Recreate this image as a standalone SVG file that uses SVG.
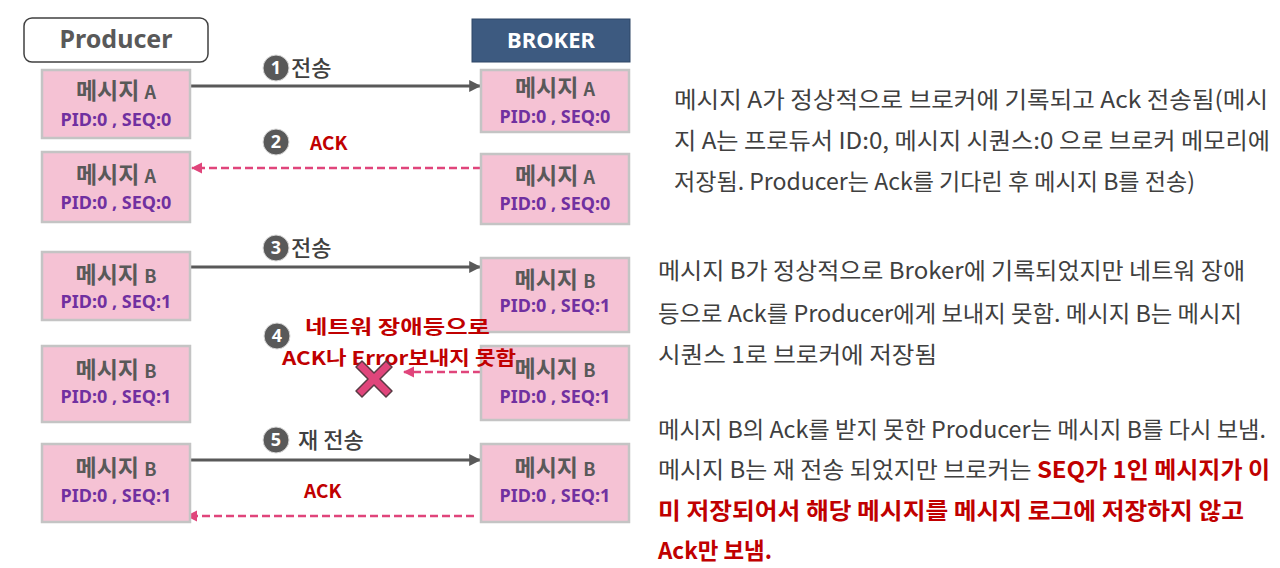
<svg xmlns="http://www.w3.org/2000/svg" width="1280" height="568" viewBox="0 0 1280 568">
<style>
  .box { fill: #f5c2d4; stroke: #c4c4c4; stroke-width: 2.5; }
  .msg { font-family: "Noto Sans CJK KR", "Noto Sans", sans-serif; font-weight: 700; font-size: 23px; fill: #595959; text-anchor: middle; }
  .msg tspan.l { font-size: 18px; }
  .pid { font-family: "Noto Sans", "Liberation Sans", sans-serif; font-weight: 700; font-size: 18px; fill: #7030a0; text-anchor: middle; }
  .num { fill: #595959; stroke: #d9d9d9; stroke-width: 1; }
  .numt { font-family: "Noto Sans", "Liberation Sans", sans-serif; font-weight: 700; font-size: 18px; fill: #ffffff; text-anchor: middle; }
  .lbl { font-family: "Noto Sans CJK KR", sans-serif; font-weight: 500; font-size: 22px; fill: #404040; }
  .red { font-family: "Noto Sans CJK KR", sans-serif; font-weight: 700; font-size: 19px; fill: #c00000; }
  .desc { font-family: "Noto Sans CJK KR", sans-serif; font-size: 23px; fill: #404040; }
  .descr { font-weight: 700; fill: #c00000; }
  .solid { stroke: #595959; stroke-width: 3; fill: none; }
  .dash { stroke: #e0457b; stroke-width: 2.5; stroke-dasharray: 8 4; fill: none; }
</style>
<defs>
  <marker id="ah" viewBox="0 0 10 10" refX="9" refY="5" markerWidth="4" markerHeight="4" markerUnits="strokeWidth" orient="auto">
    <path d="M0,0 L10,5 L0,10 z" fill="#595959"/>
  </marker>
  <marker id="ahp" viewBox="0 0 10 10" refX="9" refY="5" markerWidth="4.5" markerHeight="4.5" markerUnits="strokeWidth" orient="auto">
    <path d="M0,0 L10,5 L0,10 z" fill="#e0457b"/>
  </marker>
</defs>
<rect width="1280" height="568" fill="#ffffff"/>

<g id="producer">
  <rect x="24" y="18" width="184" height="44" rx="8" fill="#ffffff" stroke="#404040" stroke-width="1.5"/>
  <text x="116" y="48" font-family="Noto Sans, Liberation Sans, sans-serif" font-weight="700" font-size="25" fill="#595959" text-anchor="middle">Producer</text>
</g>
<g id="broker">
  <rect x="472" y="19" width="158" height="43" fill="#3d5a80" stroke="#2f4766" stroke-width="1"/>
  <text x="551" y="48" font-family="Noto Sans, Liberation Sans, sans-serif" font-weight="700" font-size="22" fill="#ffffff" text-anchor="middle">BROKER</text>
</g>

<g id="connectors">
  <line class="solid" x1="191" y1="86" x2="480" y2="86" marker-end="url(#ah)"/>
  <line class="dash" x1="481" y1="168" x2="192" y2="168" marker-end="url(#ahp)"/>
  <line class="solid" x1="191" y1="267" x2="480" y2="267" marker-end="url(#ah)"/>
  <line class="dash" x1="481" y1="372" x2="404" y2="372" marker-end="url(#ahp)"/>
  <line class="solid" x1="191" y1="460" x2="480" y2="460" marker-end="url(#ah)"/>
  <line class="dash" x1="474" y1="516" x2="187" y2="516" marker-end="url(#ahp)"/>
</g>

<g id="pA1"><rect class="box" x="42" y="70" width="148" height="68"/>
  <text class="msg" x="116" y="99">메시지 <tspan class="l">A</tspan></text>
  <text class="pid" x="116" y="126">PID:0 , SEQ:0</text></g>
<g id="bA1"><rect class="box" x="481" y="70" width="148" height="62"/>
  <text class="msg" x="555" y="96">메시지 <tspan class="l">A</tspan></text>
  <text class="pid" x="555" y="123">PID:0 , SEQ:0</text></g>
<g id="pA2"><rect class="box" x="42" y="152" width="148" height="70"/>
  <text class="msg" x="116" y="183">메시지 <tspan class="l">A</tspan></text>
  <text class="pid" x="116" y="209">PID:0 , SEQ:0</text></g>
<g id="bA2"><rect class="box" x="481" y="154" width="148" height="70"/>
  <text class="msg" x="555" y="184">메시지 <tspan class="l">A</tspan></text>
  <text class="pid" x="555" y="210">PID:0 , SEQ:0</text></g>
<g id="pB3"><rect class="box" x="42" y="252" width="148" height="68"/>
  <text class="msg" x="116" y="283">메시지 <tspan class="l">B</tspan></text>
  <text class="pid" x="116" y="308">PID:0 , SEQ:1</text></g>
<g id="bB3"><rect class="box" x="481" y="258" width="148" height="74"/>
  <text class="msg" x="555" y="288">메시지 <tspan class="l">B</tspan></text>
  <text class="pid" x="555" y="312">PID:0 , SEQ:1</text></g>
<g id="pB4"><rect class="box" x="42" y="346" width="148" height="76"/>
  <text class="msg" x="116" y="378">메시지 <tspan class="l">B</tspan></text>
  <text class="pid" x="116" y="403">PID:0 , SEQ:1</text></g>
<g id="bB4"><rect class="box" x="481" y="346" width="148" height="74"/>
  <text class="msg" x="555" y="377">메시지 <tspan class="l">B</tspan></text>
  <text class="pid" x="555" y="403">PID:0 , SEQ:1</text></g>
<g id="pB5"><rect class="box" x="42" y="444" width="148" height="78"/>
  <text class="msg" x="116" y="476">메시지 <tspan class="l">B</tspan></text>
  <text class="pid" x="116" y="502">PID:0 , SEQ:1</text></g>
<g id="bB5"><rect class="box" x="481" y="444" width="148" height="78"/>
  <text class="msg" x="555" y="476">메시지 <tspan class="l">B</tspan></text>
  <text class="pid" x="555" y="502">PID:0 , SEQ:1</text></g>

<g id="label1"><circle class="num" cx="276" cy="68" r="13"/><text class="numt" x="276" y="74">1</text>
  <text class="lbl" x="291" y="76">전송</text></g>
<g id="label2"><circle class="num" cx="276" cy="142" r="13"/><text class="numt" x="276" y="148">2</text>
  <text class="red" x="310" y="150">ACK</text></g>
<g id="label3"><circle class="num" cx="276" cy="248" r="13"/><text class="numt" x="276" y="254">3</text>
  <text class="lbl" x="291" y="256">전송</text></g>
<g id="label4"><circle class="num" cx="277" cy="336" r="13"/><text class="numt" x="277" y="342">4</text>
  <text class="red" x="305" y="334" font-size="21" textLength="185" lengthAdjust="spacingAndGlyphs">네트워 장애등으로</text>
  <text class="red" x="282" y="365" font-size="21" textLength="234" lengthAdjust="spacingAndGlyphs">ACK나 Error보내지 못함</text></g>
<g id="xmark">
  <polygon points="-18,-12 -12,-18 0,-6 12,-18 18,-12 6,0 18,12 12,18 0,6 -12,18 -18,12 -6,0" transform="translate(374,379)" fill="#e0457b" stroke="#5a3a44" stroke-width="1.5" stroke-linejoin="round"/>
</g>
<g id="label5"><circle class="num" cx="276" cy="440" r="13"/><text class="numt" x="276" y="446">5</text>
  <text class="lbl" x="298" y="448">재 전송</text>
  <text class="red" x="304" y="498">ACK</text></g>

<g id="desc1">
  <text class="desc" x="674" y="108" textLength="594" lengthAdjust="spacingAndGlyphs">메시지 A가 정상적으로 브로커에 기록되고 Ack 전송됨(메시</text>
  <text class="desc" x="674" y="149" textLength="596" lengthAdjust="spacingAndGlyphs">지 A는 프로듀서 ID:0, 메시지 시퀀스:0 으로 브로커 메모리에</text>
  <text class="desc" x="674" y="190" textLength="521" lengthAdjust="spacingAndGlyphs">저장됨. Producer는 Ack를 기다린 후 메시지 B를 전송)</text>
</g>
<g id="desc2">
  <text class="desc" x="658" y="279" textLength="587" lengthAdjust="spacingAndGlyphs">메시지 B가 정상적으로 Broker에 기록되었지만 네트워 장애</text>
  <text class="desc" x="658" y="322" textLength="584" lengthAdjust="spacingAndGlyphs">등으로 Ack를 Producer에게 보내지 못함. 메시지 B는 메시지</text>
  <text class="desc" x="658" y="363" textLength="279" lengthAdjust="spacingAndGlyphs">시퀀스 1로 브로커에 저장됨</text>
</g>
<g id="desc3">
  <text class="desc" x="658" y="438" textLength="608" lengthAdjust="spacingAndGlyphs">메시지 B의 Ack를 받지 못한 Producer는 메시지 B를 다시 보냄.</text>
  <text class="desc" x="658" y="478" textLength="612" lengthAdjust="spacingAndGlyphs">메시지 B는 재 전송 되었지만 브로커는 <tspan class="descr">SEQ가 1인 메시지가 이</tspan></text>
  <text class="desc descr" x="658" y="519" textLength="586" lengthAdjust="spacingAndGlyphs">미 저장되어서 해당 메시지를 메시지 로그에 저장하지 않고</text>
  <text class="desc descr" x="658" y="559" textLength="114" lengthAdjust="spacingAndGlyphs">Ack만 보냄.</text>
</g>
</svg>
